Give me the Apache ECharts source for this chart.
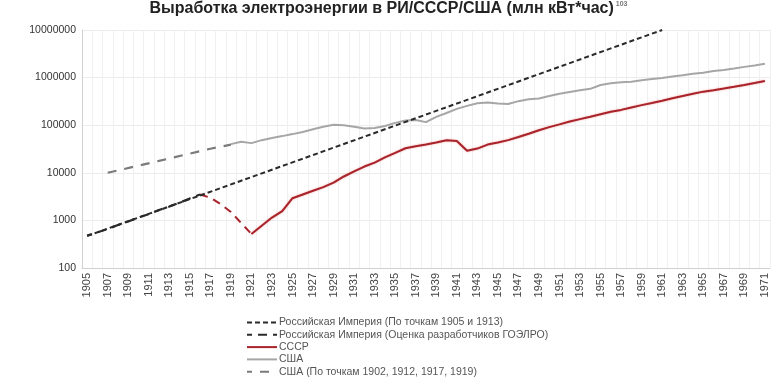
<!DOCTYPE html>
<html><head><meta charset="utf-8">
<script src="https://cdn.jsdelivr.net/npm/echarts@6/dist/echarts.min.js"></script>
<style>html,body{margin:0;padding:0;background:#fff}#c{width:777px;height:385px}</style>
</head><body><div id="c"></div>
<script>
// Categories
var years = [];
for (var y = 1905; y <= 1971; y++) years.push(String(y));

// Y tick labels (log scale)
var yTicks = [100, 1000, 10000, 100000, 1000000, 10000000];

// Российская Империя (по точкам 1905 и 1913) – extrapolated straight line (end points)
var riPointsYears = ['1905', '1913', '1961'];
var riPointsVals  = [470, 1960, 10000000];

// Российская Империя (оценка ГОЭЛРО)
var riGoelroYears = ['1905','1906','1907','1908','1909','1910','1911','1912','1913','1914','1915','1916'];
var riGoelroVals  = [480, 560, 660, 800, 950, 1150, 1350, 1650, 1950, 2350, 2900, 3500];

// СССР – estimate of the fall 1916–1921 (dashed red)
var ussrEstYears = ['1916','1917','1918','1919','1920','1921'];
var ussrEstVals  = [3500, 3000, 2200, 1500, 880, 520];

// СССР 1921–1971
var ussrYears = years.slice(years.indexOf('1921'));
var ussrVals = [520, 775, 1146, 1562, 2925, 3508, 4205, 5007, 6224, 8368,
  10687, 13540, 16357, 21011, 26288, 32837, 36173, 39366, 43203, 48309,
  46700, 29100, 32300, 39200, 43257, 48600, 56500, 66300, 78300, 91226,
  104000, 119100, 134300, 150700, 170225, 191700, 209700, 235400, 264000, 292274,
  327000, 369000, 412000, 459000, 507000, 545000, 589000, 639000, 700000, 770000, 850000];

// США 1919–1971
var usaYears = years.slice(years.indexOf('1919'));
var usaVals = [40000, 45000, 42000, 48500, 54000, 59000, 65000, 72000, 82000, 93000,
  102000, 100000, 93000, 85000, 87000, 96000, 112000, 125000, 128000, 116000,
  150000, 180000, 220000, 255000, 290000, 300000, 285000, 280000, 320000, 350000,
  365000, 410000, 460000, 500000, 540000, 580000, 700000, 760000, 800000, 820000,
  880000, 930000, 980000, 1050000, 1120000, 1200000, 1270000, 1370000, 1450000, 1550000,
  1680000, 1800000, 1950000];

// США (по точкам 1902, 1912, 1917, 1919)
var usaPtsYears = ['1907', '1912', '1917', '1919'];
var usaPtsVals  = [10000, 17800, 32000, 39000];

function pairs(ys, vs) { return ys.map(function (yy, i) { return [yy, vs[i]]; }); }

var names = ['Российская Империя (По точкам 1905 и 1913)',
  'Российская Империя (Оценка разработчиков ГОЭЛРО)',
  'СССР', 'США', 'США (По точкам 1902, 1912, 1917, 1919)'];

var chart = echarts.init(document.getElementById('c'));
var font = 'Liberation Sans';
chart.setOption({
  animation: false,
  backgroundColor: '#fff',
  title: {
    text: '{t|Выработка электроэнергии в РИ/СССР/США (млн кВт*час)}{s|103}',
    left: 'center', top: -4,
    textStyle: {
      rich: {
        t: { fontFamily: font, fontWeight: 'bold', fontSize: 16, color: '#222' },
        s: { fontFamily: font, fontSize: 7, color: '#777', verticalAlign: 'top', padding: [0,0,7,2] }
      }
    }
  },
  legend: {
    orient: 'vertical', left: 241, top: 312, height: 75,
    itemWidth: 30, itemHeight: 8, itemGap: 1.3,
    itemStyle: { opacity: 0 },
    textStyle: { fontFamily: font, fontSize: 10.5, lineHeight: 11, color: '#555', padding: [0,0,0,-3] },
    data: names
  },
  grid: { left: 82, right: 7, top: 30, bottom: 117 },
  xAxis: {
    type: 'category', data: years, boundaryGap: true,
    axisLine: { lineStyle: { color: '#d0d0d0' } },
    axisTick: { show: false },
    axisLabel: { interval: 1, rotate: 90, fontFamily: font, fontSize: 11, color: '#444', margin: 5 },
    splitLine: { show: true, interval: 0, lineStyle: { color: '#f0f0f0' } }
  },
  yAxis: {
    type: 'log', logBase: 10, min: yTicks[0], max: yTicks[yTicks.length - 1],
    axisLine: { show: true, lineStyle: { color: '#d0d0d0' } },
    axisTick: { show: false },
    axisLabel: { fontFamily: font, fontSize: 10.5, color: '#333', margin: 6,
      formatter: function (v) { return String(Math.round(v)); } },
    splitLine: { show: true, lineStyle: { color: '#ececec' } }
  },
  series: [
    { name: names[0], type: 'line', symbol: 'none', connectNulls: true, z: 5,
      data: pairs(riPointsYears, riPointsVals),
      lineStyle: { color: '#2a2a2a', width: 2, type: [5, 3] }, itemStyle: { color: '#2a2a2a' } },
    { name: names[1], type: 'line', symbol: 'none', z: 4,
      data: pairs(riGoelroYears, riGoelroVals),
      lineStyle: { color: '#2a2a2a', width: 2.2, type: [9, 6], dashOffset: 4 }, itemStyle: { color: '#2a2a2a' } },
    { name: names[2], type: 'line', symbol: 'none', z: 3,
      data: pairs(ussrYears, ussrVals),
      lineStyle: { color: '#a8232a', width: 2, shadowColor: 'rgba(230,80,80,0.5)', shadowBlur: 2 },
      itemStyle: { color: '#a8232a' } },
    { name: 'est', type: 'line', symbol: 'none', z: 3,
      data: pairs(ussrEstYears, ussrEstVals),
      lineStyle: { color: '#a8232a', width: 2, type: [8, 6] }, itemStyle: { color: '#a8232a' } },
    { name: names[3], type: 'line', symbol: 'none', z: 2,
      data: pairs(usaYears, usaVals),
      lineStyle: { color: '#a6a6a6', width: 2 }, itemStyle: { color: '#a6a6a6' } },
    { name: names[4], type: 'line', symbol: 'none', z: 2,
      data: pairs(usaPtsYears, usaPtsVals),
      lineStyle: { color: '#7a7a7a', width: 2.2, type: [9, 8] }, itemStyle: { color: '#7a7a7a' } }
  ]
});
</script></body></html>
